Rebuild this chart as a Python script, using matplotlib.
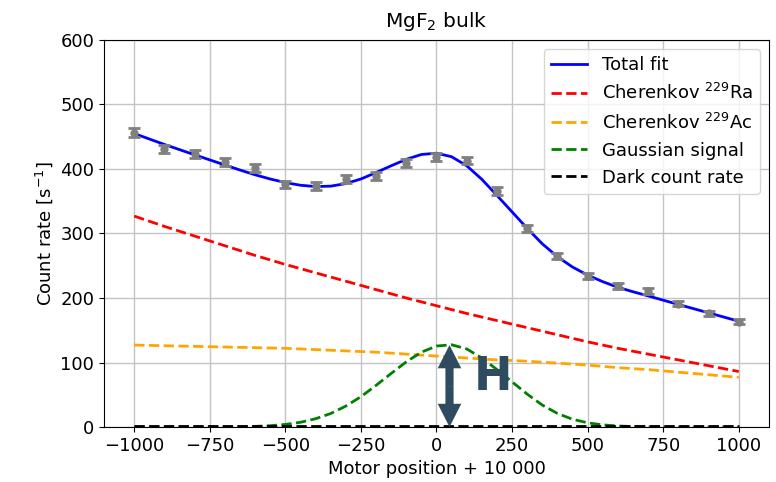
import numpy as np
import matplotlib.pyplot as plt
from matplotlib.patches import FancyArrow

# === measured points ===
pos = [-1000, -900, -800, -700, -600, -500, -400, -300, -200, -100, 0,
       100, 200, 300, 400, 500, 600, 700, 800, 900, 1000]
rate = [456, 431, 423, 411, 402, 376, 374, 384, 389, 409, 419,
        413, 366, 308, 265, 234, 219, 211, 191, 176, 163]
rate_err = [7, 6, 6, 6, 6, 6, 6, 6, 6, 6, 6, 6, 6, 5, 5, 5, 5, 5, 4, 4, 4]

# === fit components ===
pos_fine = list(range(-1000, 1001, 50))
total_fit = [455.0, 446.5, 438.0, 430.0, 422.0, 414.1, 406.2, 398.4, 391.0, 384.5,
             379.0, 374.8, 372.8, 373.4, 377.4, 384.5, 394.5, 405.0, 415.0, 422.5,
             424.5, 419.0, 405.0, 384.0, 359.0, 333.5, 308.0, 284.0, 264.0, 248.0,
             235.5, 225.3, 216.6, 209.7, 203.3, 196.6, 190.0, 183.5, 177.0, 170.5, 164.0]
gauss_sig = [0, 0, 0, 0, 0, 0.1, 0.2, 0.4, 1.0, 2.0,
             4.0, 7.3, 12.8, 20.9, 32.4, 47.0, 64.5, 83.0, 101.0, 116.0,
             125.5, 127.5, 121.0, 107.0, 89.0, 70.0, 51.0, 34.0, 21.0, 12.0,
             6.5, 3.3, 1.6, 0.7, 0.3, 0.1, 0, 0, 0, 0, 0]
cher_ra = [327, 311, 296, 281, 266, 252, 239, 226, 213, 200, 188,
           176, 165, 154, 143, 132, 122, 113, 104, 95, 86]
cher_ac = [127, 126, 125, 124, 123, 122, 120, 118, 116, 113, 110,
           107, 104, 102, 99, 96, 92, 89, 85, 81, 77]
dark_pos = [-1000, 1000]
dark_rate = [1.0, 1.0]

# H marker (peak height)
h_pos = 43
h_top = 127

fig = plt.figure(figsize=(7.76, 4.82), dpi=100)
ax = fig.add_axes([104 / 776, 55 / 482, 665 / 776, 387 / 482])

ax.plot(pos_fine, total_fit, color="blue", lw=2, label="Total fit", zorder=4)
ax.plot(pos, cher_ra, color="red", lw=2, ls="--", label="Cherenkov $^{229}$Ra")
ax.plot(pos, cher_ac, color="orange", lw=2, ls="--", label="Cherenkov $^{229}$Ac")
ax.plot(pos_fine, gauss_sig, color="green", lw=2, ls="--", label="Gaussian signal")
ax.plot(dark_pos, dark_rate, color="black", lw=2, ls="--", label="Dark count rate")
ax.errorbar(pos, rate, yerr=rate_err, fmt="o", color="gray", ms=5,
            capsize=4, elinewidth=2, capthick=2, zorder=5)

# double headed arrow for H
col = "#2f4b5f"
mid = h_top / 2
for end in (h_top, 0):
    ax.add_patch(FancyArrow(h_pos, mid, 0, end - mid, width=27, head_width=78,
                            head_length=36, length_includes_head=True,
                            color=col, lw=0, zorder=6))
ax.text(188, 76, "H", fontsize=33, fontweight="bold", color=col,
        ha="center", va="center", zorder=6)

ax.set_xlim(-1100, 1100)
ax.set_ylim(0, 600)
ax.set_xticks([-1000, -750, -500, -250, 0, 250, 500, 750, 1000])
ax.tick_params(labelsize=13)
ax.set_title("MgF$_2$ bulk", fontsize=14.5, pad=9)
ax.set_xlabel("Motor position + 10 000", fontsize=13)
ax.set_ylabel("Count rate [s$^{-1}$]", fontsize=13)
ax.grid(True, lw=1, color="#c4c4c4")
ax.legend(loc="upper right", fontsize=13)

plt.savefig("out.png", dpi=100)
